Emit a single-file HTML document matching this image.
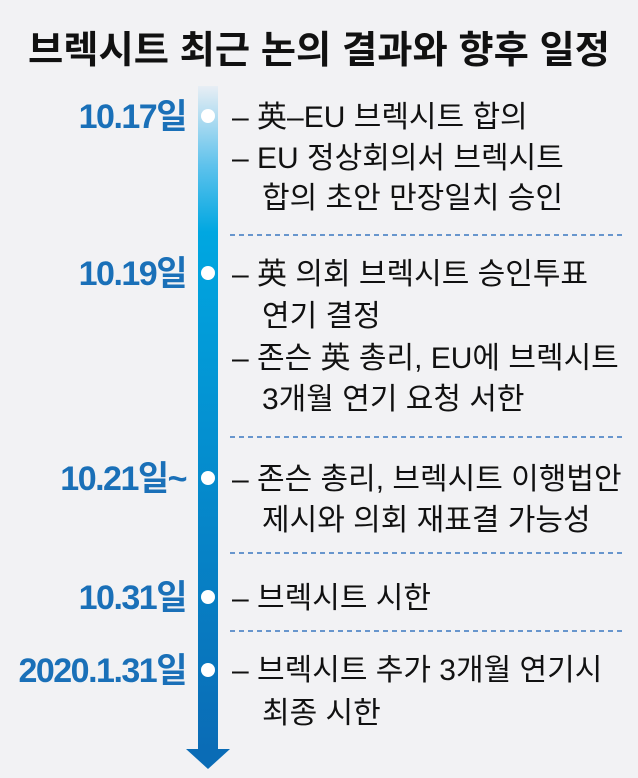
<!DOCTYPE html>
<html><head><meta charset="utf-8"><style>
html,body{margin:0;padding:0;background:#f2f2f4;}
svg{display:block;}
text{font-family:"Liberation Sans","Noto Sans CJK KR",sans-serif;}
.t{font-size:30px;fill:#111;}
.d{font-size:34px;font-weight:bold;fill:#1a70b8;letter-spacing:-1.5px;}
</style></head><body>
<svg width="638" height="778" viewBox="0 0 638 778" xmlns="http://www.w3.org/2000/svg">
<defs>
<linearGradient id="g" x1="0" y1="0" x2="0" y2="1">
<stop offset="0" stop-color="#e8eef4"/>
<stop offset="0.12" stop-color="#5ec2ec"/>
<stop offset="0.22" stop-color="#00a7e1"/>
<stop offset="1" stop-color="#0a6cb6"/>
</linearGradient>
</defs>
<rect width="638" height="778" fill="#f2f2f4"/>
<text x="28" y="63" font-size="38" font-weight="bold" fill="#111" textLength="582" lengthAdjust="spacingAndGlyphs">브렉시트 최근 논의 결과와 향후 일정</text>
<rect x="198" y="86" width="20" height="664" fill="url(#g)"/>
<polygon points="186,749 230,749 208,769" fill="#0a6cb6"/>
<g fill="#fff">
<circle cx="208" cy="116" r="7"/><circle cx="208" cy="273" r="7"/><circle cx="208" cy="478" r="7"/><circle cx="208" cy="597" r="7"/><circle cx="208" cy="670" r="7"/>
</g>
<g stroke="#3a78c0" stroke-width="1.5" stroke-dasharray="5,4">
<line x1="230" y1="235" x2="622" y2="235"/><line x1="230" y1="437" x2="622" y2="437"/><line x1="230" y1="553" x2="622" y2="553"/><line x1="230" y1="631" x2="622" y2="631"/>
</g>
<g class="d" text-anchor="end">
<text x="186" y="128">10.17일</text>
<text x="186" y="285">10.19일</text>
<text x="186" y="490">10.21일~</text>
<text x="186" y="609">10.31일</text>
<text x="186" y="682">2020.1.31일</text>
</g>
<g class="t">
<text x="232" y="127">– 英–EU 브렉시트 합의</text>
<text x="232" y="168">– EU 정상회의서 브렉시트</text>
<text x="262" y="208">합의 초안 만장일치 승인</text>
<text x="232" y="284">– 英 의회 브렉시트 승인투표</text>
<text x="262" y="326">연기 결정</text>
<text x="232" y="368">– 존슨 英 총리, EU에 브렉시트</text>
<text x="262" y="409">3개월 연기 요청 서한</text>
<text x="232" y="489">– 존슨 총리, 브렉시트 이행법안</text>
<text x="262" y="530">제시와 의회 재표결 가능성</text>
<text x="232" y="608">– 브렉시트 시한</text>
<text x="232" y="680">– 브렉시트 추가 3개월 연기시</text>
<text x="262" y="723">최종 시한</text>
</g>
</svg>
</body></html>
